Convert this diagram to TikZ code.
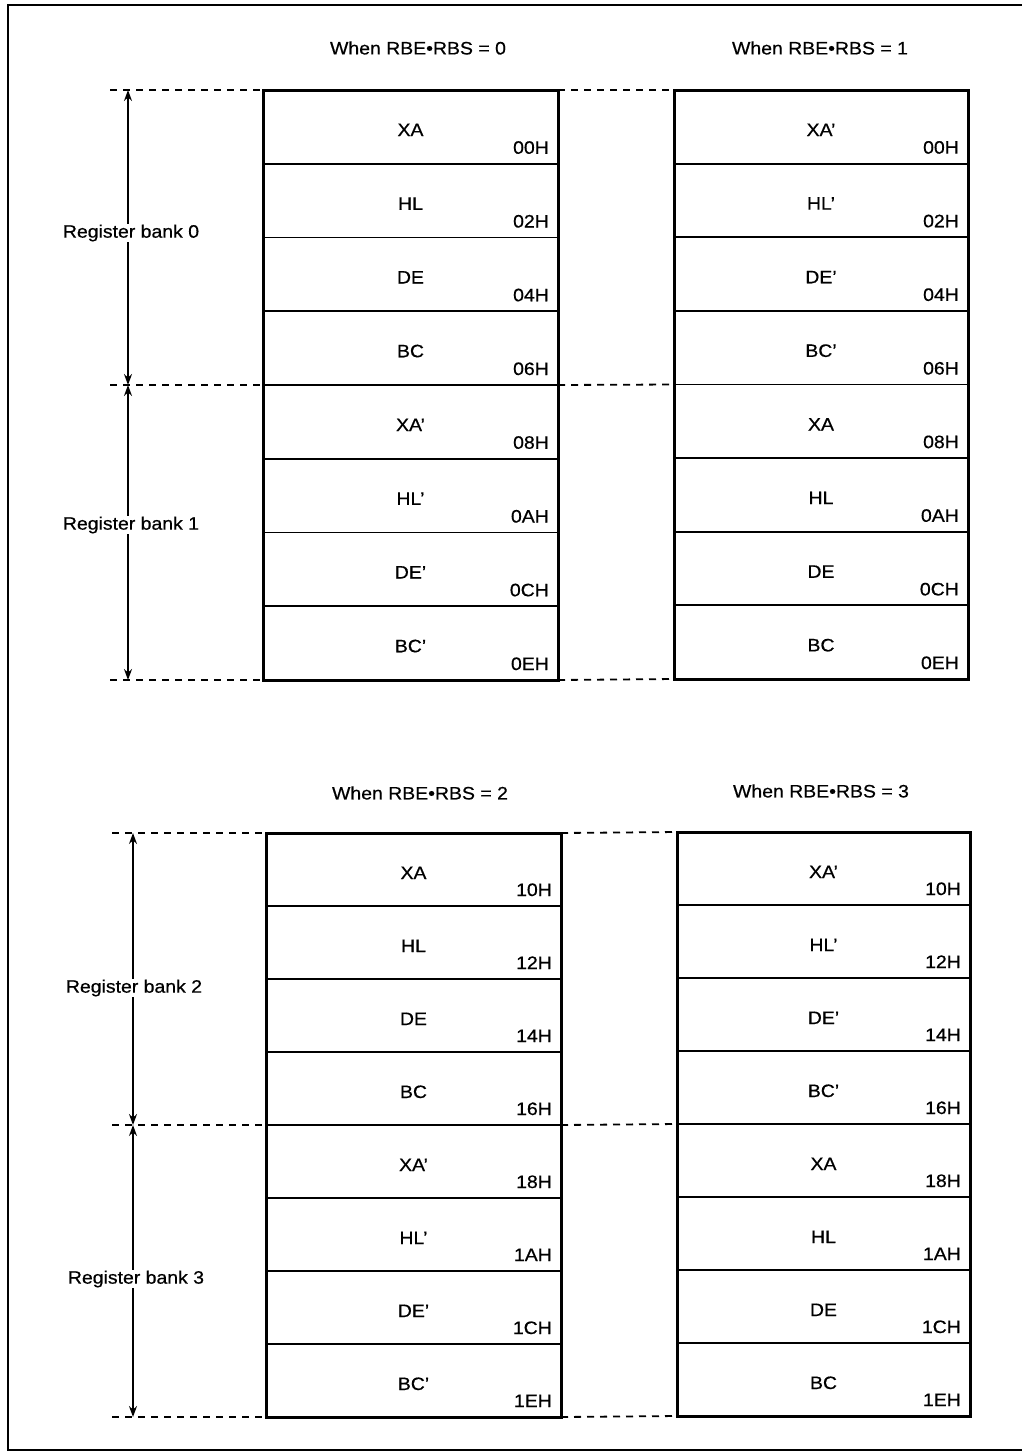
\documentclass[tikz,border=0pt]{standalone}
\usepackage{fontspec}
\setmainfont[FakeStretch=1.08,FakeBold=0.6]{Liberation Sans}
\usetikzlibrary{arrows.meta}
\tikzset{
  frameline/.style={line width=2.4pt, line cap=rect},
  cell/.style={line width=1.8pt},
  outerbox/.style={line width=3pt, line join=miter},
  guide/.style={line width=1.8pt, dash pattern=on 7pt off 6pt},
  dimarrow/.style={line width=1.4pt, {Stealth[length=11pt,width=8pt]}-{Stealth[length=11pt,width=8pt]}},
  reg/.style={anchor=base, inner sep=0pt, font=\fontsize{18}{20}\selectfont},
  addr/.style={anchor=base east, inner sep=0pt, font=\fontsize{18}{20}\selectfont},
  heading/.style={inner sep=0pt, font=\fontsize{18}{20}\selectfont},
  banklabel/.style={fill=white, inner sep=1pt, font=\fontsize{18}{20}\selectfont},
}
\newcommand{\regtable}[6]{%
  \pgfmathsetmacro{\rh}{(#5-#3)/8}%
  \foreach \n/\a [count=\i from 0] in {#6} {
    \pgfmathsetmacro{\ytop}{#3+\i*\rh}
    \pgfmathsetmacro{\ybot}{\ytop+\rh}
    \draw[cell] (#2,\ytop) -- (#4,\ytop);
    \node[reg] (#1-n\i) at ({(#2+#4)/2},{\ytop+46}) {\n};
    \node[addr] (#1-a\i) at ({#4-9},{\ybot-10}) {\a};
  }
  \draw[outerbox] (#2,#3) rectangle (#4,#5);
  \coordinate (#1-tl) at (#2,#3);
  \coordinate (#1-tr) at (#4,#3);
  \coordinate (#1-ml) at (#2,{(#3+#5)/2});
  \coordinate (#1-mr) at (#4,{(#3+#5)/2});
  \coordinate (#1-bl) at (#2,#5);
  \coordinate (#1-br) at (#4,#5);
}
\begin{document}
\begin{tikzpicture}[x=1pt,y=-1pt]
\useasboundingbox (0,0) rectangle (1022,1452);
\fill[white] (0,0) rectangle (1022,1452);
% outer frame (right edge lies outside the picture)
\draw[frameline] (1022,5) -- (8,5) -- (8,1450) -- (1022,1450);

% headings
\node[heading] (h0) at (418,48) {When RBE•RBS = 0};
\node[heading] (h1) at (820,48) {When RBE•RBS = 1};
\node[heading] (h2) at (420,793) {When RBE•RBS = 2};
\node[heading] (h3) at (821,791) {When RBE•RBS = 3};

% tables
\regtable{A}{263}{90}{558}{680}{XA/00H,HL/02H,DE/04H,BC/06H,XA'/08H,HL'/0AH,DE'/0CH,BC'/0EH}
\regtable{B}{674}{90}{968}{679}{XA'/00H,HL'/02H,DE'/04H,BC'/06H,XA/08H,HL/0AH,DE/0CH,BC/0EH}
\regtable{C}{266}{833}{561}{1417}{XA/10H,HL/12H,DE/14H,BC/16H,XA'/18H,HL'/1AH,DE'/1CH,BC'/1EH}
\regtable{D}{677}{832}{970}{1416}{XA'/10H,HL'/12H,DE'/14H,BC'/16H,XA/18H,HL/1AH,DE/1CH,BC/1EH}

% guide coordinates
\coordinate (gA0) at (110,90);
\coordinate (gA1) at (110,385);
\coordinate (gA2) at (110,680);
\coordinate (aA0) at (128,90);
\coordinate (aA1) at (128,385);
\coordinate (aA2) at (128,680);
\coordinate (gC0) at (112,833);
\coordinate (gC1) at (112,1125);
\coordinate (gC2) at (112,1417);
\coordinate (aC0) at (133,833);
\coordinate (aC1) at (133,1125);
\coordinate (aC2) at (133,1417);

% dashed guides
\draw[guide] (gA0) -- (A-tl);
\draw[guide] (gA1) -- (A-ml);
\draw[guide] (gA2) -- (A-bl);
\draw[guide] (A-tr) -- (B-tl);
\draw[guide] (A-mr) -- (B-ml);
\draw[guide] (A-br) -- (B-bl);
\draw[guide] (gC0) -- (C-tl);
\draw[guide] (gC1) -- (C-ml);
\draw[guide] (gC2) -- (C-bl);
\draw[guide] (C-tr) -- (D-tl);
\draw[guide] (C-mr) -- (D-ml);
\draw[guide] (C-br) -- (D-bl);

% dimension arrows
\draw[dimarrow] (aA0) -- (aA1);
\draw[dimarrow] (aA1) -- (aA2);
\draw[dimarrow] (aC0) -- (aC1);
\draw[dimarrow] (aC1) -- (aC2);

% bank labels
\node[banklabel] (rb0) at (131,233) {Register bank 0};
\node[banklabel] (rb1) at (131,525) {Register bank 1};
\node[banklabel] (rb2) at (134,988) {Register bank 2};
\node[banklabel] (rb3) at (136,1279) {Register bank 3};
\end{tikzpicture}
\end{document}
